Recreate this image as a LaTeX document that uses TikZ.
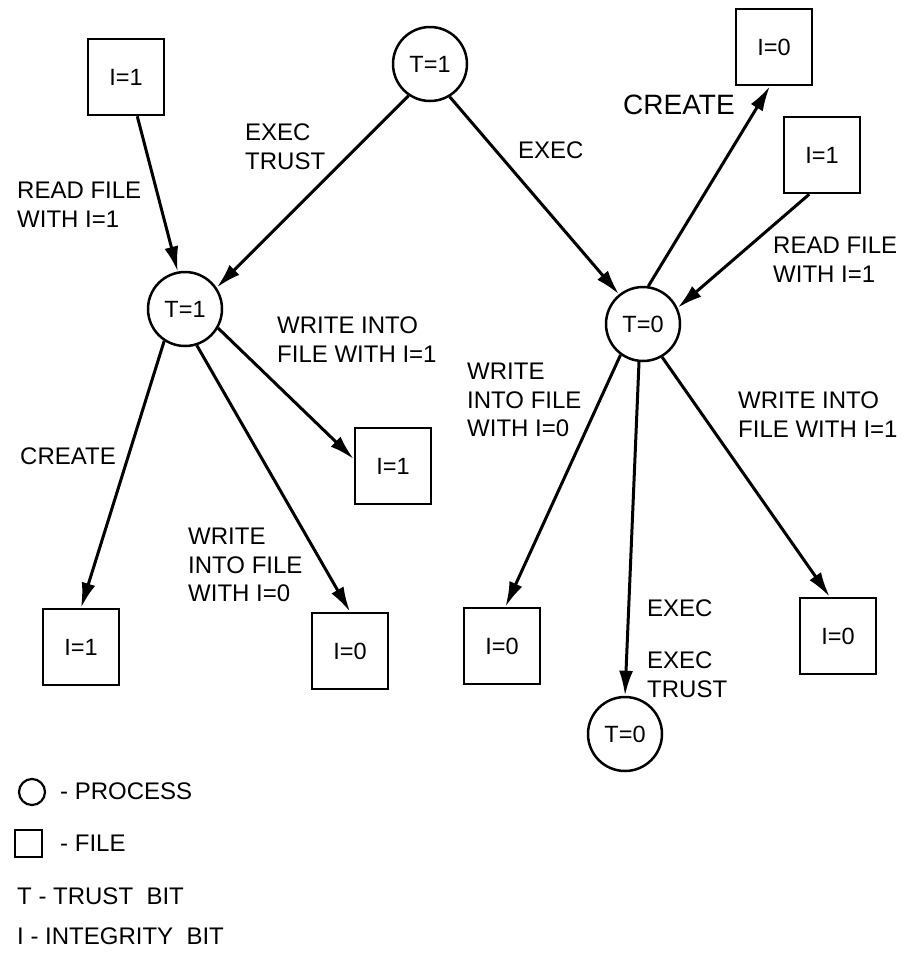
\documentclass[tikz,border=0pt]{standalone}
\usepackage{fontspec}
\setmainfont{Liberation Sans}
\usetikzlibrary{arrows.meta}
\begin{document}
\begin{tikzpicture}[x=1pt,y=-1pt,
  proc/.style={circle,draw,line width=2.5pt,minimum size=74pt,inner sep=0pt,font=\fontsize{23.5}{26}\selectfont},
  file/.style={rectangle,draw,line width=2.5pt,minimum size=76pt,inner sep=0pt,font=\fontsize{23.5}{26}\selectfont},
  arr/.style={line width=3pt,-{Latex[length=25pt,width=14pt]}},
  lbl/.style={anchor=north west,inner sep=0pt,align=left,font=\fontsize{24}{28.5}\selectfont},
  big/.style={lbl,font=\fontsize{28}{32}\selectfont},
]
\useasboundingbox (0,0) rectangle (903,959);

\node[file] (i1top) at (126,77) {I=1};
\node[proc] (t1top) at (430,64) {T=1};
\node[file] (i0tr) at (774,47) {I=0};
\node[file] (i1r) at (822,155) {I=1};
\node[proc] (t1l) at (185,309) {T=1};
\node[proc] (t0) at (643,324) {T=0};
\node[file] (i1m) at (393,466) {I=1};
\node[file] (i1bl) at (81,647) {I=1};
\node[file] (i0l) at (350,651) {I=0};
\node[file] (i0m) at (502,646) {I=0};
\node[file] (i0r) at (838,636) {I=0};
\node[proc] (t0b) at (625,734) {T=0};

\draw[arr] (i1top.286) -- (t1l.101);
\draw[arr] (t1top.236) -- (t1l.34);
\draw[arr] (t1top.301) -- (t0.129);
\draw[arr] (t0.82) -- (i0tr.264);
\draw[arr] (i1r.252) -- (t0.25);
\draw[arr] (t1l.-30) -- (i1m.170);
\draw[arr] (t1l.237) -- (i1bl.north);
\draw[arr] (t1l.288) -- (i0l.north);
\draw[arr] (t0.234) -- (i0m.85);
\draw[arr] (t0.264) -- (t0b.north);
\draw[arr] (t0.300) -- (i0r.102);

\node[lbl] (l1) at (17,182) {READ FILE\\WITH I=1};
\node[lbl] (l2) at (245,124) {EXEC\\TRUST};
\node[lbl] (l3) at (518,142) {EXEC};
\node[big] (l4) at (623,95) {CREATE};
\node[lbl] (l5) at (773,237) {READ FILE\\WITH I=1};
\node[lbl] (l6) at (277,317) {WRITE INTO\\FILE WITH I=1};
\node[lbl] (l7) at (20,448) {CREATE};
\node[lbl] (l8) at (188,528) {WRITE\\INTO FILE\\WITH I=0};
\node[lbl] (l9) at (467,363) {WRITE\\INTO FILE\\WITH I=0};
\node[lbl] (l10) at (738,392) {WRITE INTO\\FILE WITH I=1};
\node[lbl] (l11) at (647,600) {EXEC};
\node[lbl] (l12) at (647,652) {EXEC\\TRUST};

\node[circle,draw,line width=2.2pt,minimum size=26pt,inner sep=0pt] (lc) at (32,792) {};
\node[rectangle,draw,line width=2.2pt,minimum size=27pt,inner sep=0pt] (ls) at (28.5,843.5) {};
\node[lbl] (lp) at (60,783) {- PROCESS};
\node[lbl] (lf) at (60,835) {- FILE};
\node[lbl] (lt) at (17,888) {T - TRUST\ \ BIT};
\node[lbl] (li) at (17,928) {I - INTEGRITY\ \ BIT};
\end{tikzpicture}
\end{document}
